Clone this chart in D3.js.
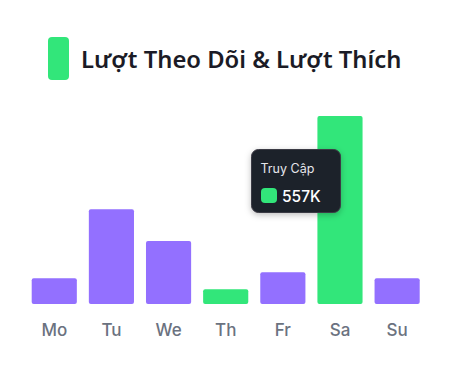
<!DOCTYPE html>
<html><head><meta charset="utf-8">
<script src="https://cdn.jsdelivr.net/npm/d3@7"></script>
<style>html,body{margin:0;padding:0;background:#fff;}</style>
</head><body>
<svg id="chart" width="452" height="375"></svg>
<script>
const title = "Lượt Theo Dõi & Lượt Thích";
const days = ["Mo","Tu","We","Th","Fr","Sa","Su"];
const values = [76, 281, 187, 44, 94, 557, 76]; // thousands
const highlight = [false, false, false, true, false, true, false];
const tooltipTitle = "Truy Cập";
const tooltipValue = "557K";

const purple = "#9370ff", green = "#32e67a";
const svg = d3.select("#chart");

const x = d3.scaleBand().domain(days).range([25.7, 425.7]).paddingInner(0.21).paddingOuter(0.105);
const y = d3.scaleLinear().domain([0, d3.max(values)]).range([304, 116]);

// title
svg.append("rect").attr("x", 48).attr("y", 37).attr("width", 21).attr("height", 43).attr("rx", 4).attr("fill", green);
svg.append("text").attr("x", 81).attr("y", 68).text(title)
  .attr("font-family", "Noto Sans").attr("font-weight", 600).attr("font-size", 23.8).attr("fill", "#1b1b26");

// bars
svg.append("g").selectAll("rect").data(days).join("rect")
  .attr("x", d => x(d)).attr("width", x.bandwidth())
  .attr("y", (d,i) => y(values[i])).attr("height", (d,i) => y(0) - y(values[i]))
  .attr("rx", 2).attr("fill", (d,i) => highlight[i] ? green : purple);

// axis
const ax = svg.append("g").attr("transform", "translate(0,304)")
  .call(d3.axisBottom(x).tickSize(0).tickPadding(20));
ax.select(".domain").remove();
ax.selectAll("text").attr("font-family", "Inter").attr("font-weight", 500).attr("font-size", 17).attr("fill", "#6b7280");

// tooltip
const defs = svg.append("defs");
const f = defs.append("filter").attr("id", "sh").attr("x", "-30%").attr("y", "-30%").attr("width", "160%").attr("height", "160%");
f.append("feDropShadow").attr("dx", 0).attr("dy", 2).attr("stdDeviation", 3).attr("flood-color", "#000").attr("flood-opacity", 0.25);
const tt = svg.append("g").attr("transform", "translate(251.5,149.5)");
tt.append("rect").attr("width", 89).attr("height", 63).attr("rx", 7)
  .attr("fill", "#1f2029").attr("stroke", "#3a3b45").attr("stroke-width", 1).attr("filter", "url(#sh)");
tt.append("text").attr("x", 9).attr("y", 23).text(tooltipTitle)
  .attr("font-family", "Inter").attr("font-size", 12.5).attr("fill", "#e6e6ea");
tt.append("rect").attr("x", 9.5).attr("y", 38.5).attr("width", 16).attr("height", 15).attr("rx", 4).attr("fill", green);
tt.append("text").attr("x", 30.5).attr("y", 52).text(tooltipValue)
  .attr("font-family", "Inter").attr("font-weight", 500).attr("font-size", 15.5).attr("fill", "#fff");
</script>
</body></html>
